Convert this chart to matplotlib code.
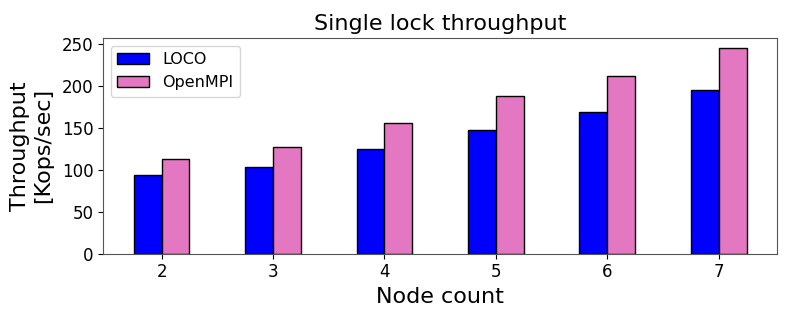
import matplotlib
matplotlib.use('Agg')
import matplotlib.pyplot as plt
import numpy as np

nodes = [2, 3, 4, 5, 6, 7]
loco = [94, 103.5, 125, 147.5, 169.5, 195.5]
openmpi = [113, 127, 156, 188, 212, 245]

w = 0.25
x = np.array(nodes)

fig, ax = plt.subplots(figsize=(7.93, 3.17), dpi=100)
ax.bar(x - w / 2, loco, w, color='blue', edgecolor='black', label='LOCO')
ax.bar(x + w / 2, openmpi, w, color='#e377c2', edgecolor='black', label='OpenMPI')

ax.set_xticks(nodes)
ax.set_yticks([0, 50, 100, 150, 200, 250])
ax.tick_params(labelsize=12)
ax.set_title('Single lock throughput', fontsize=16)
ax.set_xlabel('Node count', fontsize=16)
ax.set_ylabel('Throughput\n[Kops/sec]', fontsize=16, labelpad=6)
ax.legend(fontsize=11.5, loc='upper left')
for s in ax.spines.values():
    s.set_color('#555555')

plt.subplots_adjust(left=0.130, right=0.980, top=0.880, bottom=0.200)
plt.savefig('out.png')
